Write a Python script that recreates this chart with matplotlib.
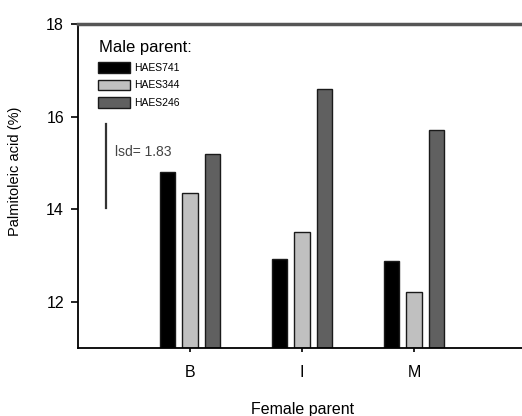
import numpy as np
import matplotlib
matplotlib.use("Agg")
import matplotlib.pyplot as plt

plt.rcParams['font.family'] = ['Liberation Sans', 'DejaVu Sans']

# palmitoleic acid content by female parent, one bar per male parent
female = ['B', 'I', 'M']
male = ['HAES741', 'HAES344', 'HAES246']
haes741 = [14.81, 12.93, 12.88]
haes344 = [14.36, 13.52, 12.22]
haes246 = [15.20, 16.59, 15.72]
lsd = 1.83
lsd_base = 14.02

series = [haes741, haes344, haes246]
colors = ['#000000', '#c0c0c0', '#606060']

fig = plt.figure(figsize=(5.22, 4.16), dpi=100)
ax = fig.add_axes([78 / 522, 67.7 / 416, 444 / 522, 324.3 / 416])

x = np.arange(1, len(female) + 1)
offsets = [-0.2, 0.0, 0.2]
width = 0.135
for vals, off, col, name in zip(series, offsets, colors, male):
    ax.bar(x + off, np.array(vals) - 11, width, bottom=11, color=col,
           edgecolor='#1a1a1a', linewidth=1.0, label=name)

# least significant difference bar
ax.plot([0.25, 0.25], [lsd_base, lsd_base + lsd], color='#333333', lw=1.6)
ax.text(0.33, 15.24, f'lsd= {lsd:.2f}', fontsize=10, color='#444444',
        va='center', ha='left')

ax.set_xlim(0, 3.964)
ax.set_ylim(11, 18)
ax.set_xticks(x)
ax.set_xticklabels(female, fontsize=11.5)
ax.set_yticks([12, 14, 16, 18])
ax.set_yticklabels(['12', '14', '16', '18'], fontsize=11.5)
ax.tick_params(axis='y', direction='out', length=5, width=1.2, pad=5)
ax.tick_params(axis='x', direction='out', length=3, width=1.2, pad=9)

ax.spines['right'].set_visible(False)
for s in ['left', 'bottom']:
    ax.spines[s].set_linewidth(1.3)
ax.spines['top'].set_linewidth(2.5)
ax.spines['top'].set_color('#555555')

ax.set_xlabel('Female parent', fontsize=11.5)
ax.xaxis.set_label_coords(0.505, -0.166)
ax.set_ylabel('Palmitoleic acid (%)', fontsize=10.5)
ax.yaxis.set_label_coords(-0.126, 0.547)

ax.text(0.047, 0.927, 'Male parent:', transform=ax.transAxes,
        fontsize=12, va='center', ha='left')
ax.legend(loc='upper left', bbox_to_anchor=(0.045, 0.882), frameon=False,
          fontsize=7.5, borderpad=0, handlelength=3.1, handleheight=1.2,
          handletextpad=0.4, labelspacing=0.62, borderaxespad=0)

fig.savefig('out.png', dpi=100)
